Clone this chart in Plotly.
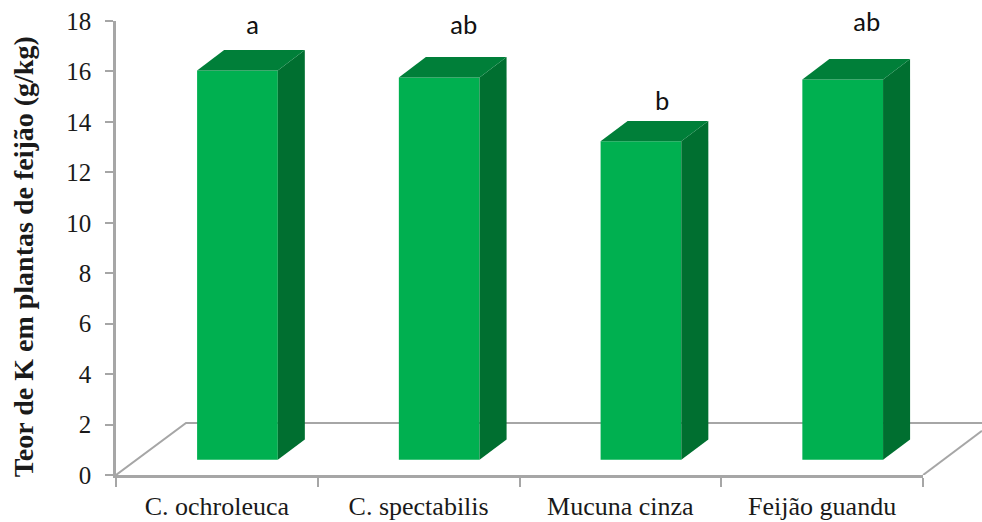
import plotly.graph_objects as go

categories = ["C. ochroleuca", "C. spectabilis", "Mucuna cinza", "Feijão guandu"]
values = [16.04, 15.76, 13.23, 15.68]
base_level = 0.6
letters = ["a", "ab", "b", "ab"]
letter_x = [0.178, 1.22, 2.206, 3.222]
letter_y = [17.85, 17.87, 14.85, 17.98]
y_ticks = list(range(0, 20, 2))
y_title = "Teor de K em plantas de feijão (g/kg)"

FRONT, TOP, SIDE = "#00B050", "#007F39", "#006F30"
GRID = "#A6A6A6"
TEXT = "#1a1a1a"
bar_shift, bar_w = -0.098, 0.40
dx, dy = 0.134, 0.81

fig = go.Figure()

# floor lines, behind the bars (own axis that runs to the page edge)
fig.add_trace(go.Scatter(x=[-0.5, -0.153, 3.792], y=[0, 2.06, 2.06], mode="lines",
                         line=dict(color=GRID, width=2), hoverinfo="skip",
                         showlegend=False, xaxis="x", yaxis="y"))
fig.add_trace(go.Scatter(x=[3.5, 3.792], y=[0, 1.75], mode="lines",
                         line=dict(color=GRID, width=2), hoverinfo="skip",
                         showlegend=False, xaxis="x", yaxis="y"))

# carrier so that the boundary-tick axis is drawn
fig.add_trace(go.Scatter(x=[0], y=[0], mode="markers", marker=dict(opacity=0), hoverinfo="skip",
                         showlegend=False, xaxis="x2", yaxis="y"))

# front faces
fig.add_trace(go.Bar(x=list(range(4)), y=[v - base_level for v in values], base=base_level,
                     width=bar_w, offset=bar_shift, marker=dict(color=FRONT, line=dict(width=0)),
                     showlegend=False, xaxis="x3", yaxis="y"))

# side and top faces
for i, v in enumerate(values):
    l = i + bar_shift
    r = l + bar_w
    fig.add_trace(go.Scatter(x=[r, r + dx, r + dx, r, r], y=[base_level, base_level + dy, v + dy, v, base_level],
                             mode="lines", fill="toself", fillcolor=SIDE, line=dict(width=0),
                             hoverinfo="skip", showlegend=False, xaxis="x3", yaxis="y"))
    fig.add_trace(go.Scatter(x=[l, l + dx, r + dx, r, l], y=[v, v + dy, v + dy, v, v],
                             mode="lines", fill="toself", fillcolor=TOP, line=dict(width=0),
                             hoverinfo="skip", showlegend=False, xaxis="x3", yaxis="y"))

annots = [dict(x=x, y=y, xref="x3", yref="y", text=t, showarrow=False,
               font=dict(family="Carlito, Lato, sans-serif", size=27, color="#111111"))
          for x, y, t in zip(letter_x, letter_y, letters)]
annots.append(dict(x=(23 - 116) / 866, y=(475 - 257) / 454.5, xref="paper", yref="paper",
                   text="<b>" + y_title + "</b>", textangle=-90, showarrow=False,
                   xanchor="center", yanchor="middle",
                   font=dict(size=28, family="Liberation Serif", color=TEXT)))

end = 807 / 866
fig.update_layout(
    width=982, height=522,
    margin=dict(l=116, r=0, t=20.5, b=47),
    paper_bgcolor="white", plot_bgcolor="rgba(0,0,0,0)",
    font=dict(family="Liberation Serif", color=TEXT),
    annotations=annots,
    xaxis=dict(range=[-0.5, 3.792], domain=[0, 1], anchor="y", visible=False, automargin=False),
    xaxis2=dict(range=[-0.5, 3.5], domain=[0, end], anchor="y", tickmode="array",
                tickvals=[-0.5, 0.5, 1.5, 2.5, 3.5], ticktext=[""] * 5, ticks="outside",
                ticklen=9, tickwidth=1.5, tickcolor=GRID, showgrid=False, zeroline=False,
                showline=True, linecolor=GRID, linewidth=2.5, automargin=False),
    xaxis3=dict(range=[-0.5, 3.5], domain=[0, end], overlaying="x2", anchor="y", side="bottom",
                tickmode="array", tickvals=list(range(4)), ticktext=categories, ticks="outside",
                ticklen=8, tickcolor="rgba(0,0,0,0)",
                tickfont=dict(size=26, family="Liberation Serif", color=TEXT),
                showgrid=False, zeroline=False, showline=False, automargin=False),
    yaxis=dict(range=[0, 18], tickmode="array", tickvals=y_ticks, ticks="outside", ticklen=8,
               tickwidth=1.5, tickcolor=GRID, ticklabelstandoff=9,
               tickfont=dict(size=25, family="Liberation Serif", color=TEXT),
               showgrid=False, zeroline=False, showline=True, linecolor=GRID, linewidth=2.5,
               automargin=False),
)

fig.write_html("out.html", post_script="document.body.style.margin='0';",
               config={"displayModeBar": False})
